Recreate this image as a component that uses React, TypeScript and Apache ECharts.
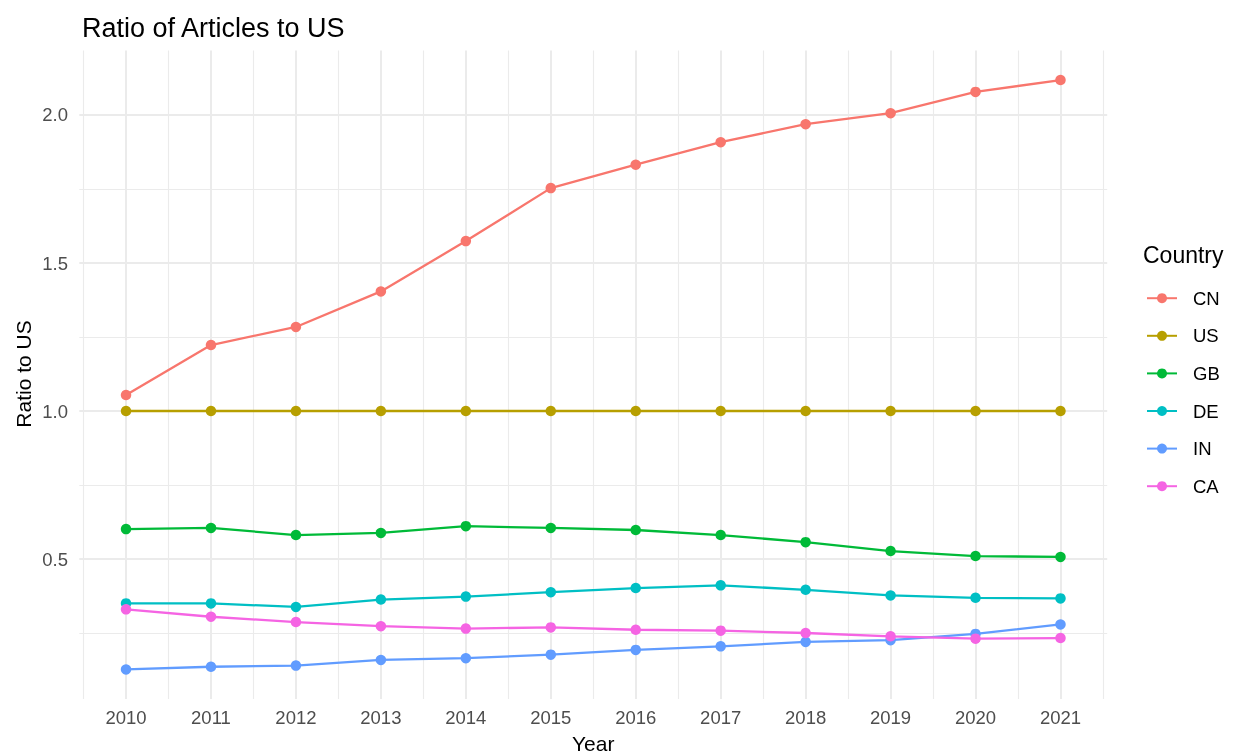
import React, { useEffect, useRef } from "react";
import * as echarts from "echarts";

const years = [2010, 2011, 2012, 2013, 2014, 2015, 2016, 2017, 2018, 2019, 2020, 2021];
const countries = ["CN", "US", "GB", "DE", "IN", "CA"];
const colors = ["#F8766D", "#B79F00", "#00BA38", "#00BFC4", "#619CFF", "#F564E3"];
const cnValues = [1.054, 1.223, 1.284, 1.404, 1.574, 1.753, 1.832, 1.908, 1.969, 2.006, 2.078, 2.118];
const usValues = [1, 1, 1, 1, 1, 1, 1, 1, 1, 1, 1, 1];
const gbValues = [0.601, 0.605, 0.581, 0.588, 0.611, 0.605, 0.598, 0.581, 0.557, 0.527, 0.51, 0.507];
const deValues = [0.35, 0.35, 0.338, 0.363, 0.373, 0.388, 0.402, 0.411, 0.396, 0.377, 0.369, 0.367];
const inValues = [0.127, 0.136, 0.14, 0.159, 0.165, 0.177, 0.193, 0.205, 0.22, 0.226, 0.247, 0.279];
const caValues = [0.33, 0.305, 0.287, 0.273, 0.265, 0.269, 0.261, 0.258, 0.25, 0.239, 0.231, 0.233];
const yMajorTicks = [0.5, 1.0, 1.5, 2.0];
const yMinorTicks = [0.25, 0.75, 1.25, 1.75];

const FONT = "'Liberation Sans', Arial, Helvetica, sans-serif";

export default function App() {
  const ref = useRef<HTMLDivElement>(null);
  useEffect(() => {
    if (!ref.current) return;
    const chart = echarts.init(ref.current, undefined, { renderer: "svg" });
    const allSeries = [cnValues, usValues, gbValues, deValues, inValues, caValues];
    const allVals = allSeries.flat();
    const vMin = Math.min(...allVals);
    const vMax = Math.max(...allVals);
    const vPad = (vMax - vMin) * 0.05;
    const xPad = (years[years.length - 1] - years[0]) * 0.05;
    const xMinorTicks = [...years.map((y) => y - 0.5), years[years.length - 1] + 0.5];

    const gridData: any[] = [
      ...xMinorTicks.map((v) => ({ xAxis: v, lineStyle: { width: 1.1 } })),
      ...yMinorTicks.map((v) => ({ yAxis: v, lineStyle: { width: 1.1 } })),
      ...years.map((v) => ({ xAxis: v, lineStyle: { width: 2 } })),
      ...yMajorTicks.map((v) => ({ yAxis: v, lineStyle: { width: 2 } })),
    ];

    const series: any[] = countries.map((name, i) => ({
      name,
      type: "line",
      data: years.map((y, j) => [y, allSeries[i][j]]),
      symbol: "circle",
      symbolSize: 10.5,
      showSymbol: true,
      lineStyle: { width: 2.3, color: colors[i] },
      itemStyle: { color: colors[i] },
      emphasis: { disabled: true },
      z: 3,
    }));
    series.unshift({
      name: "__grid",
      type: "line",
      data: [],
      silent: true,
      z: 1,
      markLine: {
        silent: true,
        z: 1,
        symbol: ["none", "none"],
        label: { show: false },
        emphasis: { disabled: true },
        lineStyle: { type: "solid", color: "#EBEBEB" },
        data: gridData,
      },
    });

    chart.setOption({
      animation: false,
      textStyle: { fontFamily: FONT },
      title: {
        text: "Ratio of Articles to US",
        left: 82,
        top: 13.5,
        padding: 0,
        textStyle: { fontSize: 27, fontWeight: "normal", color: "#000000", lineHeight: 28, fontFamily: FONT },
      },
      grid: { left: 79.3, right: 128.8, top: 50.6, bottom: 56.1, containLabel: false },
      xAxis: {
        type: "value",
        min: years[0] - xPad,
        max: years[years.length - 1] + xPad,
        axisLine: { show: false },
        axisTick: { show: false },
        splitLine: { show: false },
        axisLabel: {
          customValues: years,
          formatter: (v: number) => String(Math.round(v)),
          color: "#4D4D4D",
          fontSize: 18.5,
          lineHeight: 19,
          margin: 9.3,
          fontFamily: FONT,
        },
      },
      yAxis: {
        type: "value",
        min: vMin - vPad,
        max: vMax + vPad,
        axisLine: { show: false },
        axisTick: { show: false },
        splitLine: { show: false },
        axisLabel: {
          customValues: yMajorTicks,
          formatter: (v: number) => v.toFixed(1),
          color: "#4D4D4D",
          fontSize: 18.5,
          margin: 11.3,
          fontFamily: FONT,
        },
      },
      legend: {
        data: countries,
        orient: "vertical",
        left: 1146,
        top: 288.7,
        padding: 0,
        itemWidth: 30,
        itemHeight: 12.5,
        itemGap: 18.6,
        selectedMode: false,
        textStyle: { fontSize: 18.5, lineHeight: 12, color: "#000000", padding: [0, 0, 0, 11], fontFamily: FONT },
      },
      graphic: [
        {
          type: "text",
          x: 593.2,
          y: 743,
          style: { text: "Year", fontSize: 21, fill: "#000000", textAlign: "center", textVerticalAlign: "middle", fontFamily: FONT },
        },
        {
          type: "text",
          x: 23,
          y: 374,
          rotation: Math.PI / 2,
          style: { text: "Ratio to US", fontSize: 21, fill: "#000000", textAlign: "center", textVerticalAlign: "middle", fontFamily: FONT },
        },
        {
          type: "text",
          x: 1143,
          y: 255,
          style: { text: "Country", fontSize: 23, fill: "#000000", textAlign: "left", textVerticalAlign: "middle", fontFamily: FONT },
        },
      ],
      series,
    });
    return () => chart.dispose();
  }, []);
  return <div ref={ref} style={{ position: "fixed", left: 0, top: 0, width: 1236, height: 755 }} />;
}
